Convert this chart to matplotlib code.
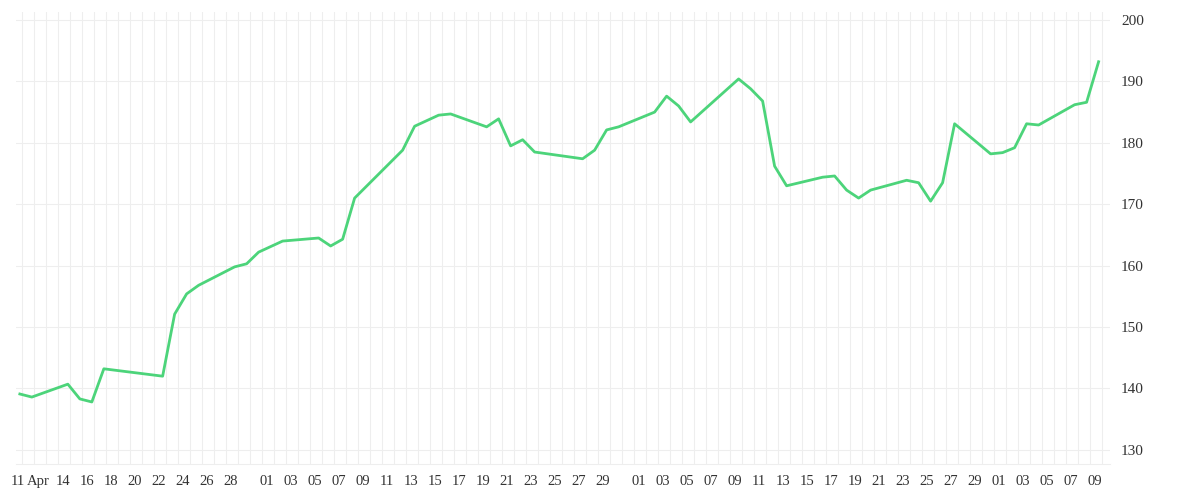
import matplotlib
matplotlib.use("Agg")
import matplotlib.pyplot as plt
import numpy as np

days = [-0.6,0.4,3.4,4.4,5.4,6.4,11.3,12.3,13.3,14.3,17.3,18.3,19.3,21.3,24.3,25.3,26.3,27.3,31.3,32.3,34.3,35.3,38.3,39.3,40.3,41.3,42.3,46.3,47.3,48.3,49.3,52.3,53.3,54.3,55.3,59.3,60.3,61.3,62.3,63.3,66.3,67.3,68.3,69.3,70.3,73.3,74.3,75.3,76.3,77.3,80.3,81.3,82.3,83.3,84.3,87.3,88.3,89.3]
values = [139.1,138.6,140.7,138.3,137.8,143.2,142.0,152.1,155.4,156.8,159.8,160.3,162.2,164.0,164.5,163.2,164.3,171.0,178.8,182.7,184.5,184.7,182.6,183.9,179.5,180.5,178.5,177.4,178.8,182.1,182.6,185.0,187.6,186.0,183.4,190.4,188.8,186.8,176.2,173.0,174.4,174.6,172.3,171.0,172.3,173.9,173.5,170.5,173.5,183.1,178.2,178.4,179.2,183.1,182.9,186.2,186.6,193.2]

tick_days = [-0.8, 0.95] + list(range(3, 18, 2)) + list(range(20, 49, 2)) + list(range(51, 80, 2)) + list(range(81, 90, 2))
tick_labels = ["11", "Apr"] + [f"{d:02d}" for d in range(14, 29, 2)] + [f"{d:02d}" for d in range(1, 30, 2)] \
    + [f"{d:02d}" for d in range(1, 30, 2)] + [f"{d:02d}" for d in range(1, 10, 2)]
y_ticks = [130, 140, 150, 160, 170, 180, 190, 200]

fig = plt.figure(figsize=(12, 5), dpi=100)
ax = fig.add_axes([16/1200, 1-464/500, (1110-16)/1200, (464-12)/500])
ax.plot(days, values, color="#4cd47a", lw=2.0, solid_joinstyle="round")
ax.set_xlim(-0.92, 90.25)
ax.set_ylim(127.7, 201.3)
ax.set_xticks(tick_days)
ax.set_xticklabels(tick_labels, family="Liberation Serif", fontsize=10.5, color="#333333")
ax.set_yticks(y_ticks)
ax.set_yticklabels([str(v) for v in y_ticks], family="Liberation Serif", fontsize=11, color="#333333")
ax.yaxis.tick_right()
ax.tick_params(axis="both", which="both", length=0, pad=8)
ax.grid(False)
for d in np.arange(-1, 91):
    ax.axvline(d + 0.58, color="#eeeeee", lw=0.8, zorder=0)
for v in y_ticks:
    ax.axhline(v, color="#eeeeee", lw=0.8, zorder=0)
for s in ["top", "left", "right"]:
    ax.spines[s].set_visible(False)
ax.spines["bottom"].set_color("#eeeeee")
fig.savefig("out.png")
